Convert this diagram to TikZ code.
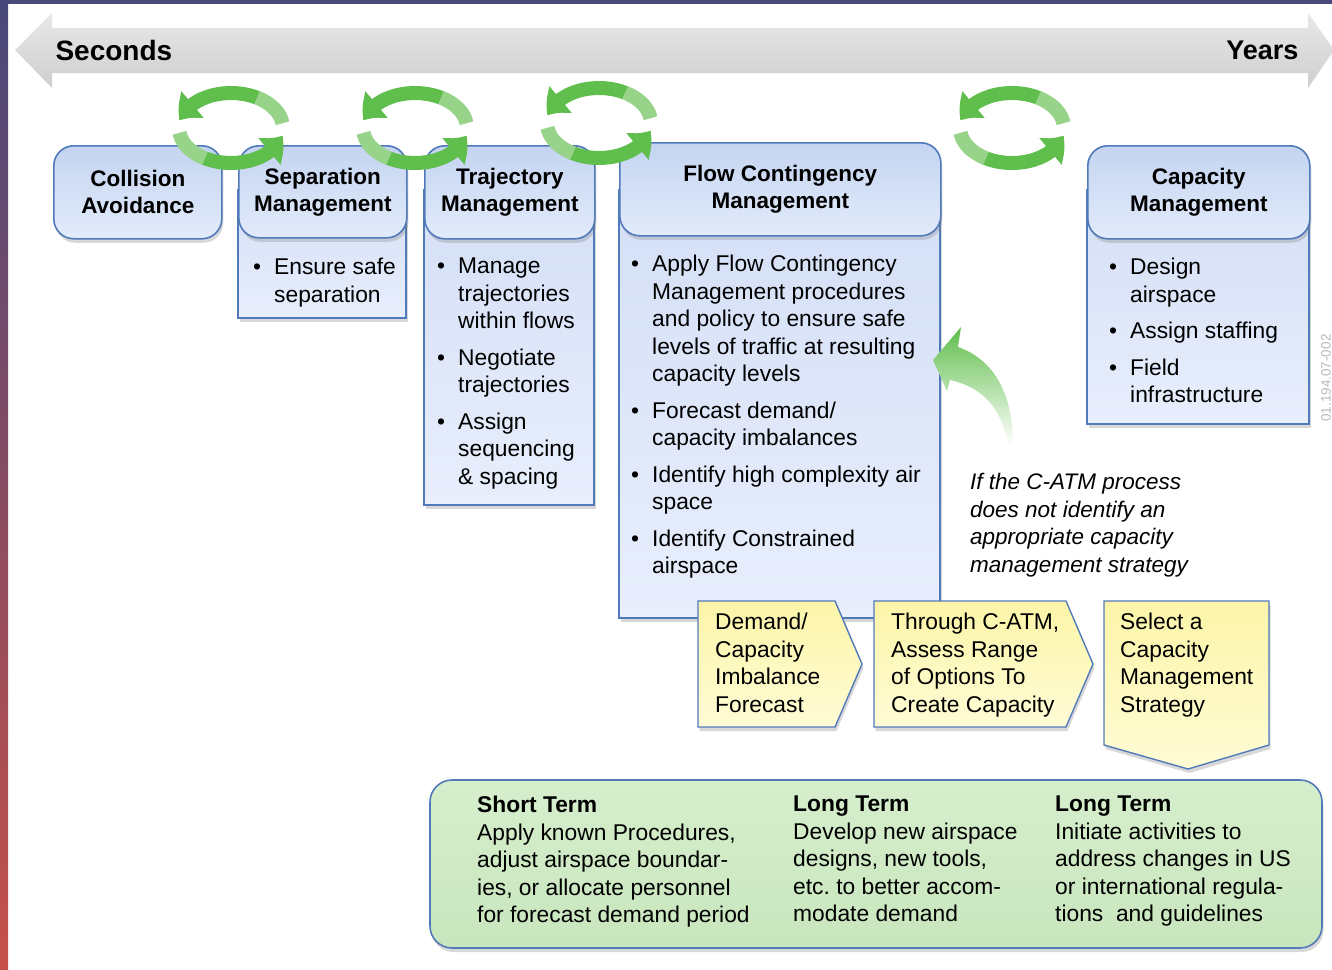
\documentclass[tikz,border=0pt]{standalone}
\usepackage{fontspec}
\setmainfont{Liberation Sans}
\usetikzlibrary{arrows.meta, bending, shadows, positioning}

\definecolor{hdrtop}{RGB}{196,212,240}
\definecolor{hdrbot}{RGB}{226,235,251}
\definecolor{bodytop}{RGB}{212,223,246}
\definecolor{bodybot}{RGB}{232,238,252}
\definecolor{edgeblue}{RGB}{80,122,186}
\definecolor{notetop}{RGB}{214,238,204}
\definecolor{notebot}{RGB}{200,230,190}
\definecolor{cyclegreen}{RGB}{96,190,76}
\definecolor{steptop}{RGB}{252,245,168}
\definecolor{stepbot}{RGB}{255,252,214}
\definecolor{frametop}{RGB}{72,72,122}
\definecolor{framebot}{RGB}{198,80,74}

\newcommand{\bul}{\makebox[21pt][l]{\textbullet}}
\newcommand{\ind}{\hspace*{21pt}}

\tikzset{
  softshadow/.style={drop shadow={shadow xshift=1.5pt, shadow yshift=-4pt, opacity=.3}},
  hdr/.style={draw=edgeblue, line width=1.6pt, rounded corners=20pt,
    top color=hdrtop, bottom color=hdrbot, softshadow, anchor=north west,
    align=center, font=\bfseries\fontsize{22.5}{27}\selectfont},
  bodybox/.style={draw=edgeblue, line width=1.6pt, top color=bodytop, bottom color=bodybot, softshadow},
  stepbox/.style={draw=edgeblue, line width=1.4pt, top color=steptop, bottom color=stepbot, softshadow},
  txt/.style={anchor=north west, inner sep=0pt, align=left,
    font=\fontsize{22.8}{27.5}\selectfont},
  cyclearrow/.style={draw=cyclegreen, line width=14pt,
    -{Triangle[width=34pt, length=20pt, bend]}},
  cyclelight/.style={draw=white, line width=14pt, opacity=.35},
  pics/cycle/.style={code={
    \draw[cyclearrow] (8:52pt and 35pt) arc[start angle=8, end angle=168, x radius=52pt, y radius=35pt];
    \draw[cyclearrow] (188:52pt and 35pt) arc[start angle=188, end angle=348, x radius=52pt, y radius=35pt];
    % lighter tails
    \draw[cyclelight] (8:52pt and 35pt) arc[start angle=8, end angle=60, x radius=52pt, y radius=35pt];
    \draw[cyclelight] (188:52pt and 35pt) arc[start angle=188, end angle=240, x radius=52pt, y radius=35pt];
  }}
}

\begin{document}
\begin{tikzpicture}[x=1pt, y=-1pt]
  \useasboundingbox (0,0) rectangle (1332,969);
  \fill[white] (0,0) rectangle (1332,969);
  % frame
  \fill[frametop] (0,0) rectangle (1332,4);
  \shade[top color=frametop, bottom color=framebot] (0,0) rectangle (8,969);

  % time scale
  \shade[top color=gray!18, bottom color=gray!38] (15,50) -- (52,13) -- (52,28) -- (1308,28) -- (1308,13)
    -- (1334,50) -- (1308,88) -- (1308,73) -- (52,73) -- (52,88) -- cycle;
  \node[anchor=west, font=\bfseries\fontsize{28}{30}\selectfont] (fast) at (52,50) {Seconds};
  \node[anchor=east, font=\bfseries\fontsize{27}{30}\selectfont] (slow) at (1302,50) {Years};

  % bodies
  \path[bodybox] (238,190) rectangle (406,318);
  \path[bodybox] (424,190) rectangle (594,505);
  \path[bodybox] (619,190) rectangle (940,618);
  \path[bodybox] (1087,190) rectangle (1309,424);

  % headers
  \node[hdr, minimum width=168, minimum height=93] (colhdr) at (53,145) {Collision\\Avoidance};
  \node[hdr, minimum width=168, minimum height=92] (sephdr) at (238,145) {Separation\\Management};
  \node[hdr, minimum width=170, minimum height=93] (trahdr) at (424,145) {Trajectory\\Management};
  \node[hdr, minimum width=321, minimum height=93] (flohdr) at (619,142) {Flow Contingency\\Management};
  \node[hdr, minimum width=222, minimum height=93] (caphdr) at (1087,145) {Capacity\\Management};

  % feedback loops
  \pic (loopa) at (231,128) {cycle};
  \pic (loopb) at (415,128) {cycle};
  \pic (loopc) at (599,123) {cycle};
  \pic (loopd) at (1012,128) {cycle};

  % body texts
  \node[txt] (septxt) at (253,258) {\bul Ensure safe\\\ind separation};
  \node[txt] (tratxt) at (437,258) {\bul Manage\\\ind trajectories\\\ind within flows\\[9pt]
    \bul Negotiate\\\ind trajectories\\[9pt]
    \bul Assign\\\ind sequencing\\\ind \& spacing};
  \node[txt] (flotxt) at (631,255) {\bul Apply Flow Contingency\\\ind Management procedures\\
    \ind and policy to ensure safe\\\ind levels of traffic at resulting\\\ind capacity levels\\[9pt]
    \bul Forecast demand/\\\ind capacity imbalances\\[9pt]
    \bul Identify high complexity air\\\ind space\\[9pt]
    \bul Identify Constrained\\\ind airspace};
  \node[txt] (captxt) at (1109,258) {\bul Design\\\ind airspace\\[9pt]
    \bul Assign staffing\\[9pt]
    \bul Field\\\ind infrastructure};

  % escalation
  \shade[top color=cyclegreen, bottom color=white] (933,360) -- (961,327) -- (958,347)
    .. controls (995,360) and (1013,395) .. (1013,445) -- (1008,445)
    .. controls (1002,410) and (985,388) .. (950,380) -- (947,391) -- cycle;
  \node[txt, font=\itshape\fontsize{22.5}{27.5}\selectfont] (note) at (970,473)
    {If the C-ATM process\\does not identify an\\appropriate capacity\\management strategy};

  % process steps
  \path[stepbox] (698,601) -- (835,601) -- (862,664) -- (835,727) -- (698,727) -- cycle;
  \path[stepbox] (874,601) -- (1066,601) -- (1093,664) -- (1066,727) -- (874,727) -- cycle;
  \path[stepbox] (1104,601) -- (1269,601) -- (1269,745) -- (1188,769) -- (1104,745) -- cycle;
  \node[txt] (stepa) at (715,613) {Demand/\\Capacity\\Imbalance\\Forecast};
  \node[txt] (stepb) at (891,613) {Through C-ATM,\\Assess Range\\of Options To\\Create Capacity};
  \node[txt] (stepc) at (1120,613) {Select a\\Capacity\\Management\\Strategy};

  % strategies
  \path[draw=edgeblue, line width=1.6pt, rounded corners=22pt, top color=notetop, bottom color=notebot,
    softshadow] (430,780) rectangle (1322,948);
  \node[txt] (shortterm) at (477,796) {\textbf{Short Term}\\Apply known Procedures,\\adjust airspace boundar-\\
    ies, or allocate personnel\\for forecast demand period};
  \node[txt] (longterm) at (793,796) {\textbf{Long Term}\\Develop new airspace\\designs, new tools,\\
    etc.\ to better accom-\\modate demand};
  \node[txt] (longtermb) at (1055,796) {\textbf{Long Term}\\Initiate activities to\\address changes in US\\
    or international regula-\\tions\ \ and guidelines};

  \node[rotate=90, text=gray!55, font=\fontsize{13.5}{14}\selectfont] (code) at (1326,378) {01.194.07-002};
\end{tikzpicture}
\end{document}
